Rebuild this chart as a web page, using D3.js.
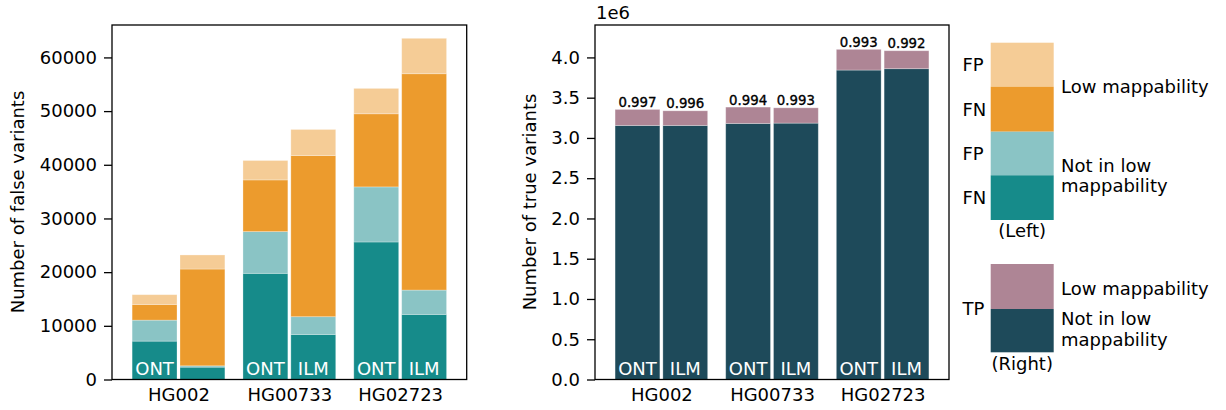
<!DOCTYPE html>
<html>
<head>
<meta charset="utf-8">
<script src="https://cdn.jsdelivr.net/npm/d3@7"></script>
<style>
  html, body { margin: 0; padding: 0; background: #fff; }
  svg { display: block; font-family: "DejaVu Sans", sans-serif; }
</style>
</head>
<body>
<svg id="chart" width="1226" height="410"></svg>
<script>
// ---------- data ----------
const samples = ["HG002", "HG00733", "HG02723"];
const platforms = ["ONT", "ILM"];
// left panel: counts per segment, order [HG002 ONT, HG002 ILM, HG00733 ONT, HG00733 ILM, HG02723 ONT, HG02723 ILM]
const fnNotLow = [7150, 2300, 19780, 8400, 25620, 12130];
const fpNotLow = [3910, 250, 7770, 3300, 10260, 4530];
const fnLow    = [2930, 18030, 9630, 30030, 13620, 40300];
const fpLow    = [1810, 2620, 3620, 4850, 4730, 6600];
// right panel: true positives
const tpNotLow = [3155000, 3155000, 3180000, 3184000, 3843000, 3860000];
const tpLow    = [199000, 182000, 203000, 190000, 257000, 223000];
const ratioLabels = ["0.997", "0.996", "0.994", "0.993", "0.993", "0.992"];
const leftTicks = [0, 10000, 20000, 30000, 40000, 50000, 60000];
const rightTicks = [0, 0.5e6, 1.0e6, 1.5e6, 2.0e6, 2.5e6, 3.0e6, 3.5e6, 4.0e6];
// labels shown inside bars on left panel (HG002 ILM omitted in original)
const leftBarLabels = ["ONT", "", "ONT", "ILM", "ONT", "ILM"];
const rightBarLabels = ["ONT", "ILM", "ONT", "ILM", "ONT", "ILM"];

const colors = {
  fnNotLow: "#168b8a", fpNotLow: "#8ac4c5", fnLow: "#ec9b2d", fpLow: "#f5cc96",
  tpLow: "#ae8595", tpNotLow: "#1e4a5a"
};

const svg = d3.select("#chart");
const FS = 18;

function panel(opts) {
  const x = d3.scaleLinear().domain([-0.6, 2.6]).range([opts.x0, opts.x1]);
  const y = d3.scaleLinear().domain([0, opts.ymax]).range([379.5, 25]);
  const g = svg.append("g");
  const half = 0.216;
  const bars = [];
  samples.forEach((s, i) => {
    platforms.forEach((p, j) => {
      const k = i * 2 + j;
      const c = i + (j === 0 ? -half : half);
      bars.push({ k, c });
    });
  });
  bars.forEach(b => {
    let base = 0;
    opts.layers.forEach(L => {
      const v = L.values[b.k];
      const x0 = x(b.c - half) + 1.5, x1 = x(b.c + half) - 1.5;
      g.append("rect")
        .attr("x", x0).attr("width", x1 - x0)
        .attr("y", y(base + v)).attr("height", y(base) - y(base + v))
        .attr("fill", L.color)
        .attr("stroke", "#fff").attr("stroke-width", 0.8).attr("stroke-opacity", 0.35);
      base += v;
    });
    b.total = base;
    const lab = opts.barLabels[b.k];
    if (lab) {
      g.append("text").attr("x", x(b.c)).attr("y", 374.5)
        .attr("text-anchor", "middle").attr("fill", "#fff")
        .attr("font-size", FS).text(lab);
    }
    if (opts.ratio) {
      g.append("text").attr("x", x(b.c)).attr("y", y(b.total) - 2.5)
        .attr("text-anchor", "middle").attr("fill", "#000")
        .attr("stroke", "#000").attr("stroke-width", 0.35)
        .attr("font-size", 13.3).text(opts.ratio[b.k]);
    }
  });
  g.append("rect").attr("x", opts.x0).attr("y", 25)
    .attr("width", opts.x1 - opts.x0).attr("height", 379.5 - 25)
    .attr("fill", "none").attr("stroke", "#000").attr("stroke-width", 1.3);
  const ya = d3.axisLeft(y).tickValues(opts.ticks).tickSize(8).tickPadding(7)
    .tickFormat(opts.fmt);
  const yg = g.append("g").attr("transform", `translate(${opts.x0},0)`).call(ya);
  yg.select(".domain").remove();
  yg.selectAll("line").attr("stroke", "#000").attr("stroke-width", 1.3);
  yg.selectAll("text").attr("font-size", FS).attr("fill", "#000")
    .attr("font-family", "DejaVu Sans, sans-serif");
  const xa = d3.axisBottom(x).tickValues([0, 1, 2]).tickSize(0).tickPadding(9)
    .tickFormat(d => samples[d]);
  const xg = g.append("g").attr("transform", "translate(0,379.5)").call(xa);
  xg.select(".domain").remove();
  xg.selectAll("text").attr("font-size", FS).attr("fill", "#000")
    .attr("font-family", "DejaVu Sans, sans-serif");
  g.append("text").attr("transform", `translate(${opts.labelX},202) rotate(-90)`)
    .attr("text-anchor", "middle").attr("dominant-baseline", "central")
    .attr("font-size", FS).text(opts.label);
}

panel({
  x0: 112, x1: 466.7, ymax: 66040, ticks: leftTicks, fmt: d3.format("d"),
  layers: [
    { values: fnNotLow, color: colors.fnNotLow },
    { values: fpNotLow, color: colors.fpNotLow },
    { values: fnLow, color: colors.fnLow },
    { values: fpLow, color: colors.fpLow }
  ],
  barLabels: leftBarLabels, label: "Number of false variants", labelX: 17
});

panel({
  x0: 595, x1: 949, ymax: 4.4026e6, ticks: rightTicks, fmt: d => (d / 1e6).toFixed(1),
  layers: [
    { values: tpNotLow, color: colors.tpNotLow },
    { values: tpLow, color: colors.tpLow }
  ],
  barLabels: rightBarLabels, ratio: ratioLabels,
  label: "Number of true variants", labelX: 529
});

svg.append("text").attr("x", 596).attr("y", 18.5).attr("font-size", FS).text("1e6");

// ---------- legend ----------
const leg = svg.append("g");
const lx = 990.7, lw = 63;
const leftLegend = [
  { lab: "FP", color: colors.fpLow, y0: 42.7, y1: 86.7 },
  { lab: "FN", color: colors.fnLow, y0: 86.7, y1: 131.7 },
  { lab: "FP", color: colors.fpNotLow, y0: 131.7, y1: 175.3 },
  { lab: "FN", color: colors.fnNotLow, y0: 175.3, y1: 220 }
];
leftLegend.forEach(d => {
  leg.append("rect").attr("x", lx).attr("y", d.y0).attr("width", lw).attr("height", d.y1 - d.y0)
    .attr("fill", d.color);
  leg.append("text").attr("x", 962.5).attr("y", (d.y0 + d.y1) / 2 + 6.5)
    .attr("font-size", FS).text(d.lab);
});
const rightLegend = [
  { color: colors.tpLow, y0: 264, y1: 309 },
  { color: colors.tpNotLow, y0: 309, y1: 352.3 }
];
rightLegend.forEach(d => {
  leg.append("rect").attr("x", lx).attr("y", d.y0).attr("width", lw).attr("height", d.y1 - d.y0)
    .attr("fill", d.color);
});
leg.append("text").attr("x", 962.5).attr("y", 315).attr("font-size", FS).text("TP");
leg.append("text").attr("x", lx + lw / 2).attr("y", 236.5).attr("text-anchor", "middle")
  .attr("font-size", FS).text("(Left)");
leg.append("text").attr("x", lx + lw / 2).attr("y", 370).attr("text-anchor", "middle")
  .attr("font-size", FS).text("(Right)");
const legText = [
  { t: "Low mappability", y: 92.7 },
  { t: "Not in low", y: 171.5 },
  { t: "mappability", y: 192 },
  { t: "Low mappability", y: 295 },
  { t: "Not in low", y: 325 },
  { t: "mappability", y: 345.5 }
];
legText.forEach(d => {
  leg.append("text").attr("x", 1061).attr("y", d.y).attr("font-size", FS).text(d.t);
});
</script>
</body>
</html>
